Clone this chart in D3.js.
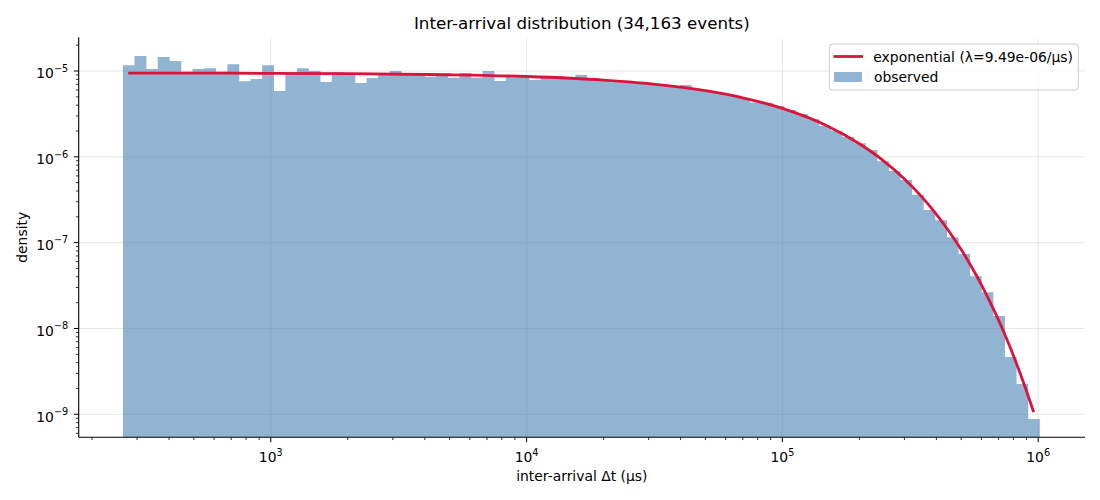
<!DOCTYPE html>
<html>
<head>
<meta charset="utf-8">
<script src="https://cdn.jsdelivr.net/npm/d3@7"></script>
<style>
  html, body { margin: 0; padding: 0; background: #fff; }
  svg { display: block; font-family: "DejaVu Sans", sans-serif; }
</style>
</head>
<body>
<svg id="chart" width="1100" height="500"></svg>
<script>
// ---- data ----
const titleText = "Inter-arrival distribution (34,163 events)";
const xLabelText = "inter-arrival \u0394t (\u03bcs)";
const yLabelText = "density";
const lineLabel = "exponential (\u03bb=9.49e-06/\u03bcs)";
const barLabel = "observed";

// histogram bins: log-spaced from binLo to binHi
const binLo = 264.2;
const binHi = 1.0116e6;
const binCount = 79;

// observed density per bin
const observed = [
  1.17e-5, 1.50e-5, 1.055e-5, 1.46e-5, 1.31e-5, 9.8e-6, 1.055e-5, 1.08e-5, 9.8e-6, 1.2e-5,
  7.6e-6, 8.07e-6, 1.17e-5, 5.85e-6, 9.5e-6, 1.08e-5, 1.0e-5, 7.44e-6, 9.7e-6, 9.4e-6,
  7.25e-6, 8.3e-6, 9.4e-6, 1.0e-5, 9.4e-6, 9.3e-6, 8.6e-6, 9.1e-6, 8.35e-6, 9.5e-6,
  8.35e-6, 1.0e-5, 7.65e-6, 8.8e-6, 8.7e-6, 7.9e-6, 8.5e-6, 8.75e-6, 8.2e-6, 8.98e-6,
  8.0e-6, 7.8e-6, 7.4e-6, 7.5e-6, 7.3e-6, 7.1e-6, 6.85e-6, 6.6e-6, 6.87e-6, 6.1e-6,
  5.8e-6, 5.5e-6, 5.2e-6, 4.85e-6, 4.3e-6, 4.27e-6, 3.9e-6, 3.51e-6, 3.15e-6, 2.74e-6,
  2.29e-6, 2.01e-6, 1.7e-6, 1.44e-6, 1.2e-6, 8.9e-7, 6.83e-7, 5.37e-7, 3.62e-7, 2.40e-7,
  1.83e-7, 1.16e-7, 7.36e-8, 4.07e-8, 2.64e-8, 1.40e-8, 4.66e-9, 2.25e-9, 8.8e-10
];

// fitted exponential curve
const fitX = [277, 500, 1000, 2000, 5000, 1e4, 2e4, 3e4, 5e4, 7e4, 1e5, 1.5e5, 2e5, 2.5e5,
  3e5, 3.5e5, 4e5, 4.5e5, 5e5, 5.5e5, 6e5, 6.5e5, 7e5, 7.5e5, 8e5, 8.5e5, 9e5, 9.6e5];
const fitY = [9.46e-6, 9.45e-6, 9.40e-6, 9.31e-6, 9.05e-6, 8.63e-6, 7.85e-6, 7.14e-6, 5.91e-6,
  4.88e-6, 3.67e-6, 2.29e-6, 1.42e-6, 8.87e-7, 5.53e-7, 3.44e-7, 2.14e-7, 1.33e-7, 8.30e-8,
  5.17e-8, 3.22e-8, 2.0e-8, 1.25e-8, 7.8e-9, 4.85e-9, 3.0e-9, 1.87e-9, 1.06e-9];

const xMajor = [1e3, 1e4, 1e5, 1e6];
const xMajorExp = ["3", "4", "5", "6"];
const yMajor = [1e-5, 1e-6, 1e-7, 1e-8, 1e-9];
const yMajorExp = ["\u22125", "\u22126", "\u22127", "\u22128", "\u22129"];

// ---- layout ----
const L = 78.7, R = 1085, T = 37.3, B = 437.3;
const svg = d3.select("#chart");

const x = d3.scaleLog().domain([Math.pow(10, 2.249), Math.pow(10, 6.183)]).range([L, R]);
const y = d3.scaleLog().domain([Math.pow(10, -9.268), Math.pow(10, -4.607)]).range([B, T]);

const logLo = Math.log10(binLo), logHi = Math.log10(binHi);
const edges = d3.range(binCount + 1).map(i => Math.pow(10, logLo + (logHi - logLo) * i / binCount));
const bins = observed.map((v, i) => ({ x0: edges[i], x1: edges[i + 1], v }));

// grid
const grid = svg.append("g");
grid.selectAll("line.gx").data(xMajor).enter().append("line")
  .attr("x1", d => x(d)).attr("x2", d => x(d)).attr("y1", T).attr("y2", B)
  .attr("stroke", "#b0b0b0").attr("stroke-opacity", 0.3).attr("stroke-width", 1);
grid.selectAll("line.gy").data(yMajor).enter().append("line")
  .attr("x1", L).attr("x2", R).attr("y1", d => y(d)).attr("y2", d => y(d))
  .attr("stroke", "#b0b0b0").attr("stroke-opacity", 0.3).attr("stroke-width", 1);

// bars: drawn as one path (union) so adjacent bars show no seams
const barPath = d3.path();
bins.forEach(d => {
  const x0 = x(d.x0), x1 = x(d.x1) + 0.3, y0 = y(d.v);
  barPath.rect(x0, y0, x1 - x0, B - y0);
});
svg.append("path").attr("d", barPath.toString())
  .attr("fill", "steelblue").attr("fill-opacity", 0.6).attr("fill-rule", "nonzero");

// fitted line
const pts = fitX.map((v, i) => [v, fitY[i]]);
svg.append("path").datum(pts)
  .attr("d", d3.line().x(d => x(d[0])).y(d => y(d[1])).curve(d3.curveMonotoneX))
  .attr("fill", "none").attr("stroke", "crimson").attr("stroke-width", 2.8);

// axes
const gx = svg.append("g").attr("transform", `translate(0,${B})`);
const xMinor = [];
[100, 1000, 10000, 100000, 1000000].forEach(b => { for (let m = 2; m <= 9; m++) { const v = b * m; if (x(v) >= L && x(v) <= R) xMinor.push(v); } });
gx.selectAll("line.minor").data(xMinor).enter().append("line")
  .attr("x1", d => x(d)).attr("x2", d => x(d)).attr("y1", 0).attr("y2", 2.8)
  .attr("stroke", "#000").attr("stroke-width", 0.8);
gx.selectAll("line.major").data(xMajor).enter().append("line")
  .attr("x1", d => x(d)).attr("x2", d => x(d)).attr("y1", 0).attr("y2", 4.9)
  .attr("stroke", "#000").attr("stroke-width", 1);
gx.append("line").attr("x1", L).attr("x2", R).attr("y1", 0).attr("y2", 0)
  .attr("stroke", "#000").attr("stroke-width", 1.1);
const xt = gx.selectAll("text.tick").data(xMajor).enter().append("text")
  .attr("x", d => x(d)).attr("y", 24.5).attr("text-anchor", "middle")
  .attr("font-size", 13.9).attr("fill", "#000");
xt.append("tspan").text("10");
xt.append("tspan").attr("dy", -6).attr("font-size", 9.7).text((d, i) => xMajorExp[i]);

const gy = svg.append("g").attr("transform", `translate(${L},0)`);
const yMinor = [];
[1e-10, 1e-9, 1e-8, 1e-7, 1e-6, 1e-5].forEach(b => { for (let m = 2; m <= 9; m++) { const v = b * m; if (y(v) >= T && y(v) <= B) yMinor.push(v); } });
gy.selectAll("line.minor").data(yMinor).enter().append("line")
  .attr("x1", -2.8).attr("x2", 0).attr("y1", d => y(d)).attr("y2", d => y(d))
  .attr("stroke", "#000").attr("stroke-width", 0.8);
gy.selectAll("line.major").data(yMajor).enter().append("line")
  .attr("x1", -4.9).attr("x2", 0).attr("y1", d => y(d)).attr("y2", d => y(d))
  .attr("stroke", "#000").attr("stroke-width", 1);
gy.append("line").attr("x1", 0).attr("x2", 0).attr("y1", T).attr("y2", B)
  .attr("stroke", "#000").attr("stroke-width", 1.1);
const yt = gy.selectAll("text.tick").data(yMajor).enter().append("text")
  .attr("x", -10.5).attr("y", d => y(d) + 7.3).attr("text-anchor", "end")
  .attr("font-size", 13.9).attr("fill", "#000");
yt.append("tspan").text("10");
yt.append("tspan").attr("dy", -6.5).attr("font-size", 9.7).text((d, i) => yMajorExp[i]);

// labels
svg.append("text").attr("x", (L + R) / 2).attr("y", 29).attr("text-anchor", "middle")
  .attr("font-size", 16.7).attr("fill", "#000").text(titleText);
svg.append("text").attr("x", (L + R) / 2).attr("y", 481).attr("text-anchor", "middle")
  .attr("font-size", 13.9).attr("fill", "#000").text(xLabelText);
svg.append("text").attr("transform", `translate(27,${(T + B) / 2}) rotate(-90)`)
  .attr("text-anchor", "middle").attr("font-size", 13.9).attr("fill", "#000").text(yLabelText);

// legend
const lg = svg.append("g");
lg.append("rect").attr("x", 829.3).attr("y", 44).attr("width", 249).attr("height", 46).attr("rx", 3)
  .attr("fill", "#fff").attr("fill-opacity", 0.8).attr("stroke", "#cccccc").attr("stroke-width", 1);
lg.append("line").attr("x1", 833.5).attr("x2", 863).attr("y1", 56.5).attr("y2", 56.5)
  .attr("stroke", "crimson").attr("stroke-width", 2.8);
lg.append("text").attr("x", 873.3).attr("y", 61.5).attr("font-size", 13.9).attr("fill", "#000").text(lineLabel);
lg.append("rect").attr("x", 834).attr("y", 72).attr("width", 28).attr("height", 10)
  .attr("fill", "steelblue").attr("fill-opacity", 0.6);
lg.append("text").attr("x", 874).attr("y", 82).attr("font-size", 13.9).attr("fill", "#000").text(barLabel);
</script>
</body>
</html>
